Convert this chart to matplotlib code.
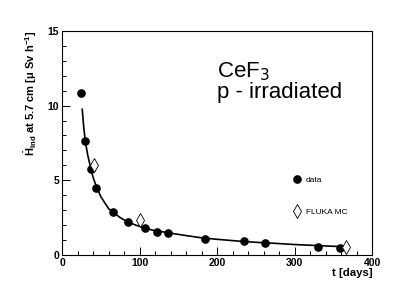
import matplotlib
matplotlib.use('Agg')
import matplotlib.pyplot as plt
from matplotlib.ticker import MultipleLocator

plt.rcParams['font.family'] = ['Liberation Sans', 'DejaVu Sans']
plt.rcParams['mathtext.fontset'] = 'custom'
plt.rcParams['mathtext.rm'] = 'Liberation Sans:bold'
plt.rcParams['mathtext.it'] = 'Liberation Sans:bold'
plt.rcParams['mathtext.bf'] = 'Liberation Sans:bold'

# measured dose rate (data)
data_days = [24, 30, 37, 44, 66, 85, 107, 122, 137, 184, 235, 262, 330, 359]
data_rate = [10.85, 7.6, 5.75, 4.5, 2.85, 2.2, 1.8, 1.56, 1.49, 1.07, 0.92, 0.8, 0.54, 0.47]

# FLUKA MC prediction
mc_days = [41, 100, 366]
mc_rate = [6.05, 2.35, 0.56]

# fit curve
fit_days = [26, 28, 30, 33, 37, 40, 44, 50, 55, 60, 66, 75, 85, 95, 107, 120,
            130, 145, 160, 180, 200, 230, 250, 275, 300, 330, 365]
fit_rate = [9.75, 8.5, 7.6, 6.7, 5.8, 5.2, 4.6, 3.9, 3.5, 3.1, 2.85, 2.5, 2.2,
            2.0, 1.8, 1.62, 1.55, 1.42, 1.3, 1.15, 1.05, 0.92, 0.85, 0.78,
            0.7, 0.63, 0.55]

fig = plt.figure(figsize=(4.14, 3.0), dpi=100)
ax = fig.add_axes([0.150, 0.150, 0.749, 0.747])

ax.plot(fit_days, fit_rate, color='black', lw=1.2, zorder=2)
ax.plot(data_days, data_rate, 'o', color='black', ms=5.2, ls='none',
        label='data', zorder=3)
ax.plot(mc_days, mc_rate, 'd', mfc='white', mec='black', mew=0.6, ms=7,
        ls='none', label='FLUKA MC', zorder=4)

ax.set_xlim(0, 400)
ax.set_ylim(0, 15)
ax.xaxis.set_major_locator(MultipleLocator(100))
ax.xaxis.set_minor_locator(MultipleLocator(20))
ax.yaxis.set_major_locator(MultipleLocator(5))
ax.yaxis.set_minor_locator(MultipleLocator(1))
ax.tick_params(which='both', direction='in', top=False, right=False,
               labelsize=7.5, width=0.7, pad=2)
ax.tick_params(which='major', length=5.5)
ax.tick_params(which='minor', length=3)
for lab in ax.get_xticklabels() + ax.get_yticklabels():
    lab.set_fontweight('bold')
for sp in ax.spines.values():
    sp.set_linewidth(0.8)

ax.set_xlabel('t [days]', fontsize=8.2, fontweight='bold', loc='right', labelpad=0)
ax.set_ylabel(r'$\dot{H}_{Ind}$ at 5.7 cm [$\mu$ Sv h$^{-1}$]', fontsize=8,
              fontweight='bold', loc='top', labelpad=6)

ax.text(0.50, 0.87, 'CeF$_{3}$\np - irradiated', transform=ax.transAxes,
        fontsize=16, va='top', ha='left', linespacing=0.95,
        math_fontfamily='dejavusans')

ax.legend(loc='upper left', bbox_to_anchor=(0.743, 0.35), frameon=False,
          fontsize=6, handlelength=1.0, handletextpad=0.6, labelspacing=2.9,
          borderpad=0, borderaxespad=0)

fig.savefig('out.png', dpi=100)
